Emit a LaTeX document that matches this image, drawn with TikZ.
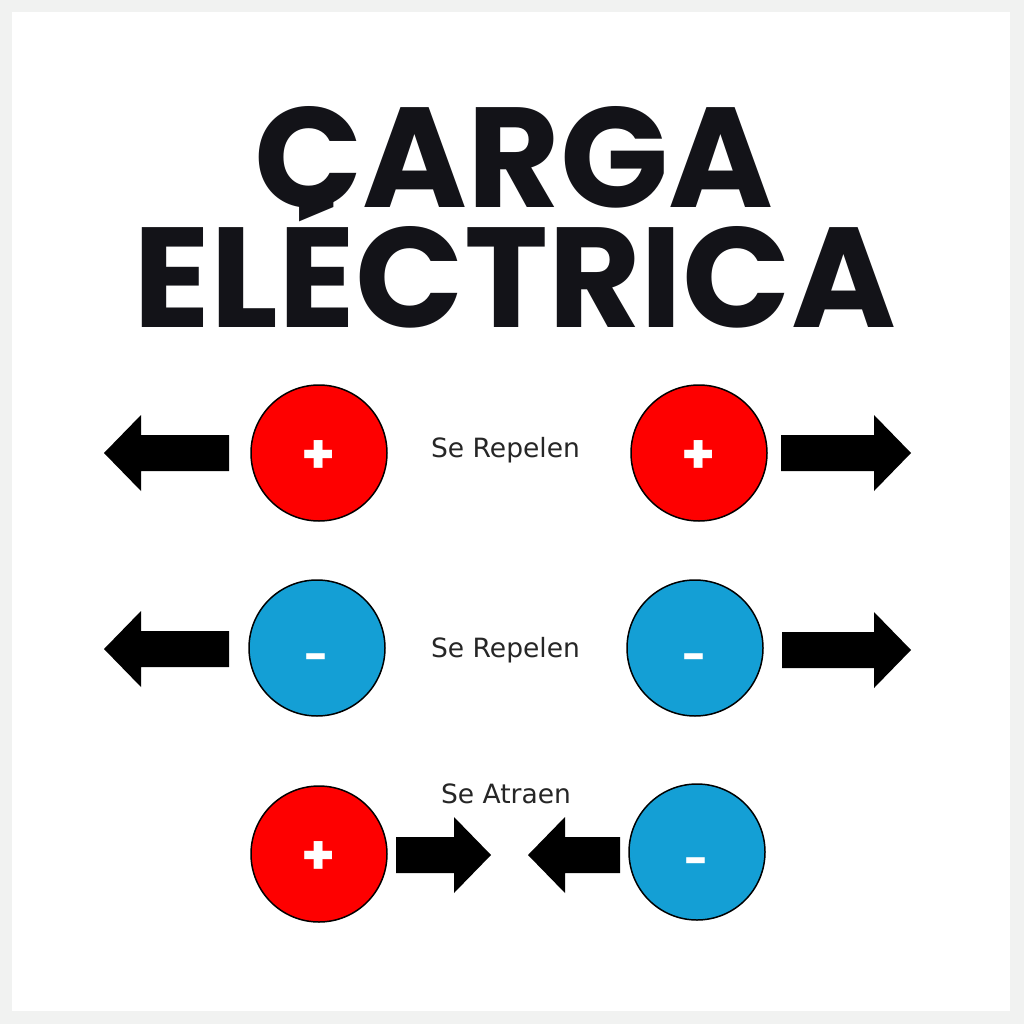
\documentclass[tikz,border=0pt]{standalone}
\usepackage{fontspec}
\setmainfont{DejaVu Sans}
\newfontfamily\titlefont{Poppins}
\usetikzlibrary{arrows.meta}

\definecolor{frame}{HTML}{F1F2F1}
\definecolor{ink}{HTML}{131318}
\definecolor{chargered}{HTML}{FE0000}
\definecolor{chargeblue}{HTML}{149FD5}

\tikzset{
  pics/blockarrow/.style={code={
    \fill[black] (0,-18) -- (#1,-18) -- (#1,-38) -- ({#1+37},0) -- (#1,38) -- (#1,18) -- (0,18) -- cycle;
  }},
  sign/.style={text=white, inner sep=0pt},
  charge/.style={circle, draw=black, line width=0.85pt, minimum size=136*0.02cm, inner sep=0pt},
  poscharge/.style={charge, fill=chargered,
    label={[sign, yshift=-0.08cm, font=\titlefont\bfseries\fontsize{31}{31}\selectfont]center:+}},
  negcharge/.style={charge, fill=chargeblue,
    label={[sign, yshift=-0.3cm, font=\titlefont\bfseries\fontsize{24}{24}\selectfont]center:-}},
  forcetext/.style={text=black!85, anchor=base, font=\fontsize{15.1}{17}\selectfont},
  title/.style={text=ink, anchor=base, font=\titlefont\bfseries\fontsize{81}{81}\selectfont}
}

\begin{document}
\begin{tikzpicture}[x=0.02cm, y=-0.02cm]
  \fill[frame] (0,0) rectangle (1024,1024);
  \fill[white] (12,12) rectangle (1010,1011);

  \node[title] (line1) at (514,207) {CARGA};
  \node[title] (line2) at (515,327) {ELÉCTRICA};

  % same charges repel
  \node[poscharge] (p1) at (319,453) {};
  \node[poscharge] (p2) at (699,453) {};
  \node[forcetext] (rep1) at (505.5,457) {Se Repelen};
  \pic[xscale=-1] at (229,453) {blockarrow=88};
  \pic at (781,453) {blockarrow=93};

  \node[negcharge] (n1) at (317,648) {};
  \node[negcharge] (n2) at (695,648) {};
  \node[forcetext] (rep2) at (505.5,657) {Se Repelen};
  \pic[xscale=-1] at (229,649) {blockarrow=88};
  \pic at (782,650) {blockarrow=92};

  % opposite charges attract
  \node[poscharge] (p3) at (319,854) {};
  \node[negcharge] (n3) at (697,852) {};
  \node[forcetext] (att) at (506,803) {Se Atraen};
  \pic at (396,855) {blockarrow=58};
  \pic[xscale=-1] at (620,855) {blockarrow=55};
\end{tikzpicture}
\end{document}
